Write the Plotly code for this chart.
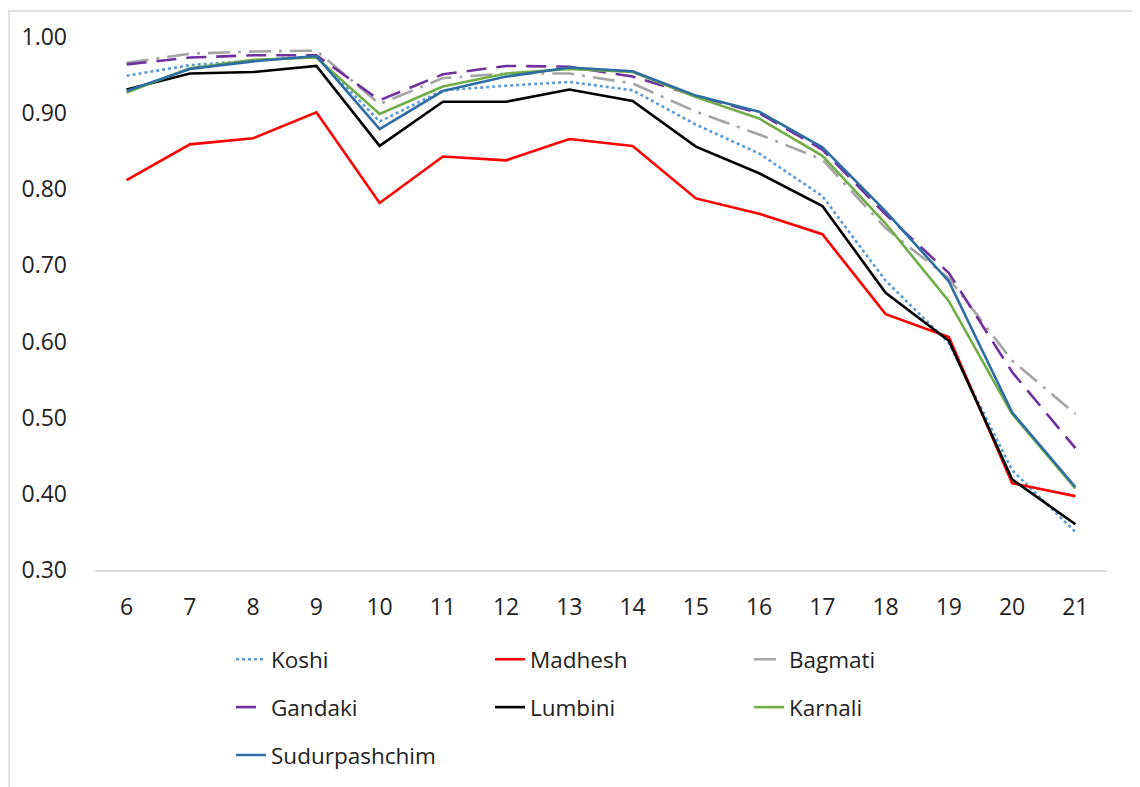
import plotly.graph_objects as go

ages = [6, 7, 8, 9, 10, 11, 12, 13, 14, 15, 16, 17, 18, 19, 20, 21]

koshi = [0.949, 0.963, 0.969, 0.975, 0.889, 0.930, 0.936, 0.941, 0.930, 0.885, 0.847, 0.791, 0.680, 0.598, 0.431, 0.350]
madhesh = [0.812, 0.859, 0.867, 0.901, 0.782, 0.843, 0.838, 0.866, 0.857, 0.788, 0.768, 0.741, 0.636, 0.606, 0.414, 0.397]
bagmati = [0.966, 0.978, 0.981, 0.982, 0.912, 0.946, 0.952, 0.952, 0.939, 0.902, 0.872, 0.839, 0.749, 0.683, 0.575, 0.505]
gandaki = [0.964, 0.973, 0.976, 0.976, 0.917, 0.951, 0.962, 0.961, 0.948, 0.923, 0.900, 0.852, 0.767, 0.690, 0.560, 0.460]
lumbini = [0.931, 0.952, 0.954, 0.962, 0.857, 0.915, 0.915, 0.931, 0.916, 0.856, 0.821, 0.778, 0.664, 0.601, 0.419, 0.360]
karnali = [0.927, 0.959, 0.970, 0.973, 0.899, 0.935, 0.952, 0.958, 0.954, 0.921, 0.893, 0.844, 0.755, 0.653, 0.505, 0.407]
sudurpashchim = [0.929, 0.958, 0.968, 0.975, 0.879, 0.929, 0.948, 0.960, 0.955, 0.923, 0.902, 0.855, 0.771, 0.679, 0.507, 0.409]

y_ticks = [0.30, 0.40, 0.50, 0.60, 0.70, 0.80, 0.90, 1.00]
y_tick_labels = ["0.30", "0.40", "0.50", "0.60", "0.70", "0.80", "0.90", "1.00"]

series = [
    ("Koshi", koshi, "#5B9BD5", "dot", "legend"),
    ("Madhesh", madhesh, "#FF0000", "solid", "legend"),
    ("Bagmati", bagmati, "#A5A5A5", "22px,8px,3px,8px", "legend"),
    ("Gandaki", gandaki, "#7030A0", "20px,10px", "legend2"),
    ("Lumbini", lumbini, "#000000", "solid", "legend2"),
    ("Karnali", karnali, "#70AD47", "solid", "legend2"),
    ("Sudurpashchim", sudurpashchim, "#2E6DA4", "solid", "legend3"),
]

FONT = "Open Sans"
fig = go.Figure()
for name, vals, color, dash, leg in series:
    fig.add_trace(go.Scatter(
        x=ages, y=vals, mode="lines", name=name,
        line=dict(color=color, width=2.6, dash=dash),
        legend=leg,
    ))

leg_common = dict(orientation="h", xref="paper", yref="paper", xanchor="left", yanchor="middle",
                  entrywidth=214, entrywidthmode="pixels", itemwidth=30,
                  font=dict(family=FONT, size=22.5, color="#222222"),
                  bgcolor="rgba(0,0,0,0)", tracegroupgap=0)

# page is offset by ~8px body margin
OFF = 8
W, H = 1140, 787
L, R, T, B = 95 - OFF, 1140 - (1107 - OFF), 35 - OFF, 787 - (570 - OFF)
pw, ph = W - L - R, H - T - B

def px_to_paper_x(px):
    return (px - OFF - L) / pw

def px_to_paper_y(py):
    return (H - B - (py - OFF)) / ph

fig.update_layout(
    width=W, height=H,
    margin=dict(l=L, r=R, t=T, b=B),
    paper_bgcolor="white", plot_bgcolor="white",
    font=dict(family=FONT, size=23, color="#222222"),
    legend=dict(leg_common, x=px_to_paper_x(231), y=px_to_paper_y(660)),
    legend2=dict(leg_common, x=px_to_paper_x(231), y=px_to_paper_y(708)),
    legend3=dict(leg_common, x=px_to_paper_x(231), y=px_to_paper_y(756)),
    xaxis=dict(range=[5.5, 21.5], tickmode="array", tickvals=ages, ticktext=[str(a) for a in ages],
               showgrid=False, zeroline=False, showline=True, linecolor="#D9D9D9", linewidth=1.5,
               ticks="", ticklabelstandoff=16, tickfont=dict(family=FONT, size=23, color="#222222")),
    yaxis=dict(range=[0.30, 1.00], tickmode="array", tickvals=y_ticks, ticktext=y_tick_labels,
               showgrid=False, zeroline=False, showline=False, ticks="", ticklabelstandoff=27,
               tickfont=dict(family=FONT, size=23, color="#222222")),
    shapes=[dict(type="rect", xref="paper", yref="paper",
                 x0=px_to_paper_x(9), x1=px_to_paper_x(1137),
                 y0=px_to_paper_y(810), y1=px_to_paper_y(9),
                 line=dict(color="#D9D9D9", width=1.5), fillcolor="rgba(0,0,0,0)", layer="below")],
)

fig.write_html("out.html")
